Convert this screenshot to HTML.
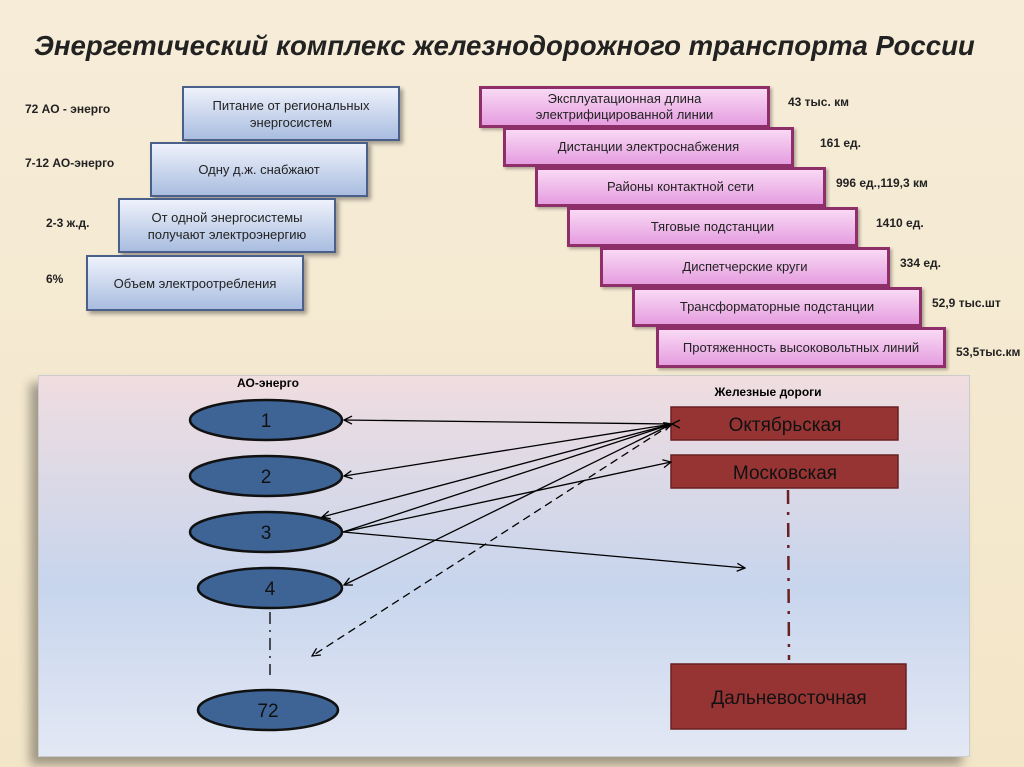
<!DOCTYPE html>
<html><head><meta charset="utf-8"><style>
body{margin:0;width:1024px;height:767px;overflow:hidden;background:linear-gradient(180deg,#f6ecd8,#f3e6c8);font-family:"Liberation Sans","DejaVu Sans",sans-serif;position:relative}
.a{position:absolute}
.t{left:34px;top:30px;white-space:nowrap;font-size:27.6px;font-weight:bold;font-style:italic;color:#222}
.b{position:absolute;border:2px solid #4a5f8a;background:linear-gradient(180deg,#eef2fb,#a9bde0);box-shadow:3px 3px 4px rgba(0,0,0,.35);display:flex;align-items:center;justify-content:center;text-align:center;font-size:13px;color:#222;line-height:17px;box-sizing:border-box}
.p{position:absolute;border:3px solid #8e2f6a;background:linear-gradient(180deg,#f9d9f4,#e59de0);box-shadow:2px 2px 3px rgba(0,0,0,.3);display:flex;align-items:center;justify-content:center;text-align:center;font-size:13px;color:#222;line-height:16px;box-sizing:border-box}
.l{position:absolute;font-size:12px;font-weight:bold;color:#222}
.panel{left:38px;top:375px;width:930px;height:380px;background:linear-gradient(180deg,#f0dde0 0%,#c7d5ed 55%,#e3e8f4 100%);box-shadow:-8px 8px 10px rgba(0,0,0,.35);border:1px solid #ccc}
</style></head><body>
<div class="a t">Энергетический комплекс железнодорожного транспорта России</div>
<div class="l" style="left:25px;top:102px">72 АО - энерго</div>
<div class="l" style="left:25px;top:156px">7-12 АО-энерго</div>
<div class="l" style="left:46px;top:216px">2-3 ж.д.</div>
<div class="l" style="left:46px;top:272px">6%</div>
<div class="b" style="left:182px;top:86px;width:218px;height:55px">Питание от региональных<br>энергосистем</div>
<div class="b" style="left:150px;top:142px;width:218px;height:55px">Одну д.ж. снабжают</div>
<div class="b" style="left:118px;top:198px;width:218px;height:55px">От одной энергосистемы<br>получают электроэнергию</div>
<div class="b" style="left:86px;top:255px;width:218px;height:56px">Объем электроотребления</div>
<div class="p" style="left:479px;top:86px;width:291px;height:42px">Эксплуатационная длина<br>электрифицированной линии</div>
<div class="p" style="left:503px;top:127px;width:291px;height:40px">Дистанции электроснабжения</div>
<div class="p" style="left:535px;top:167px;width:291px;height:40px">Районы контактной сети</div>
<div class="p" style="left:567px;top:207px;width:291px;height:40px">Тяговые подстанции</div>
<div class="p" style="left:600px;top:247px;width:290px;height:40px">Диспетчерские круги</div>
<div class="p" style="left:632px;top:287px;width:290px;height:40px">Трансформаторные подстанции</div>
<div class="p" style="left:656px;top:327px;width:290px;height:41px">Протяженность высоковольтных линий</div>
<div class="l" style="left:788px;top:95px">43 тыс. км</div>
<div class="l" style="left:820px;top:136px">161 ед.</div>
<div class="l" style="left:836px;top:176px">996 ед.,119,3 км</div>
<div class="l" style="left:876px;top:216px">1410 ед.</div>
<div class="l" style="left:900px;top:256px">334 ед.</div>
<div class="l" style="left:932px;top:296px">52,9 тыс.шт</div>
<div class="l" style="left:956px;top:345px;white-space:nowrap">53,5тыс.км</div>
<div class="a panel"></div>
<svg class="a" style="left:0;top:0" width="1024" height="767">
<defs><marker id="m" markerWidth="10" markerHeight="10" refX="9" refY="5" orient="auto" markerUnits="userSpaceOnUse"><path d="M1,1 L9,5 L1,9" fill="none" stroke="#000" stroke-width="1.3"/></marker></defs>
<text x="268" y="387" font-size="12" font-weight="bold" text-anchor="middle" font-family="Liberation Sans">АО-энерго</text>
<text x="768" y="396" font-size="12" font-weight="bold" text-anchor="middle" font-family="Liberation Sans">Железные дороги</text>
<g fill="#3e6496" stroke="#111" stroke-width="2.5">
<ellipse cx="266" cy="420" rx="76" ry="20"/><ellipse cx="266" cy="476" rx="76" ry="20"/><ellipse cx="266" cy="532" rx="76" ry="20"/><ellipse cx="270" cy="588" rx="72" ry="20"/><ellipse cx="268" cy="710" rx="70" ry="20"/>
</g>
<g font-size="19" text-anchor="middle" fill="#111" font-family="Liberation Sans">
<text x="266" y="427">1</text><text x="266" y="483">2</text><text x="266" y="539">3</text><text x="270" y="595">4</text><text x="268" y="717">72</text>
</g>
<g fill="#963434" stroke="#6a2020" stroke-width="1.5">
<rect x="671" y="407" width="227" height="33"/><rect x="671" y="455" width="227" height="33"/><rect x="671" y="664" width="235" height="65"/>
</g>
<g font-size="19" text-anchor="middle" fill="#111" font-family="Liberation Sans">
<text x="785" y="431">Октябрьская</text><text x="785" y="479">Московская</text><text x="789" y="704">Дальневосточная</text>
</g>
<g stroke="#000" stroke-width="1.3" fill="none">
<line x1="672" y1="424" x2="344" y2="420" marker-end="url(#m)" marker-start="url(#m)"/>
<line x1="672" y1="424" x2="344" y2="476" marker-end="url(#m)"/>
<line x1="672" y1="424" x2="322" y2="517" marker-end="url(#m)"/>
<line x1="343" y1="532" x2="672" y2="424" marker-end="url(#m)"/>
<line x1="343" y1="532" x2="671" y2="462" marker-end="url(#m)"/>
<line x1="343" y1="532" x2="745" y2="568" marker-end="url(#m)"/>
<line x1="672" y1="424" x2="344" y2="585" marker-end="url(#m)"/>
<line x1="672" y1="424" x2="312" y2="656" stroke-dasharray="8,5" marker-end="url(#m)"/>
<line x1="270" y1="612" x2="270" y2="675" stroke-dasharray="12,6,2,6"/>
</g>
<line x1="788" y1="490" x2="789" y2="660" stroke="#6a2020" stroke-width="2.5" stroke-dasharray="14,8,3,8"/>
</svg>
</body></html>
